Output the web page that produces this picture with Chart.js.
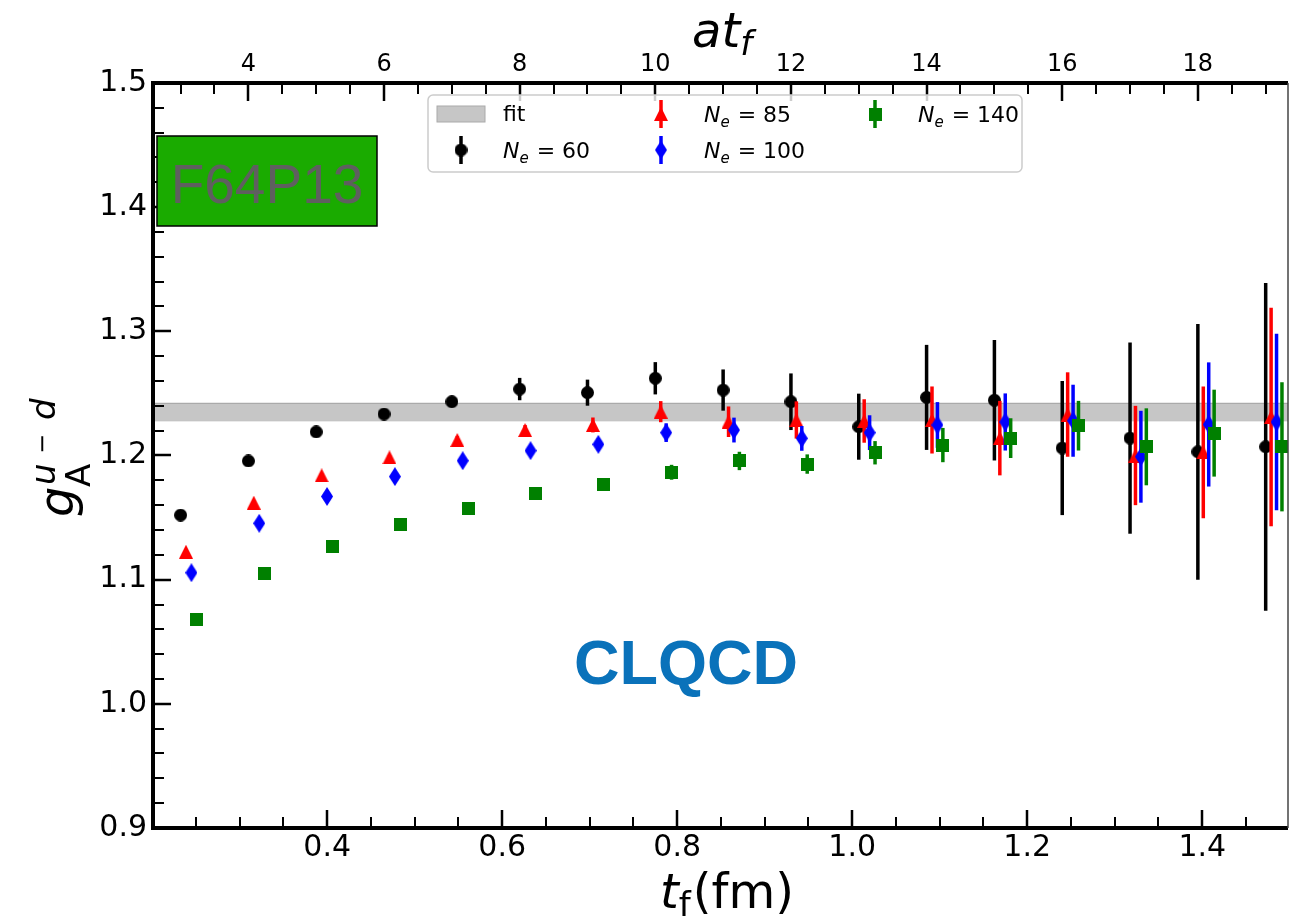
<!DOCTYPE html>
<html>
<head>
<meta charset="utf-8">
<script src="https://cdn.jsdelivr.net/npm/chart.js@4.4.1/dist/chart.umd.min.js"></script>
<style>
  html, body { margin: 0; padding: 0; background: #fff; }
  #wrap { width: 1296px; height: 922px; }
</style>
</head>
<body>
<div id="wrap"><canvas id="gA" width="1296" height="922"></canvas></div>
<script>
// lattice spacing (fm), t_f = a * at_f
const latticeA = 0.0775;
const atSteps = [3, 4, 5, 6, 7, 8, 9, 10, 11, 12, 13, 14, 15, 16, 17, 18, 19];

// g_A^{u-d} for each N_e
const ne60 = [1.152, 1.1956, 1.219, 1.2334, 1.2433, 1.2535, 1.2506, 1.2622, 1.2527, 1.2433, 1.2232, 1.2468, 1.2445, 1.206, 1.214, 1.203, 1.207];
const ne60Err = [0.002, 0.002, 0.002, 0.002, 0.003, 0.009, 0.0105, 0.013, 0.0166, 0.0228, 0.0266, 0.0423, 0.0485, 0.054, 0.077, 0.103, 0.132];
const ne85 = [1.1225, 1.162, 1.184, 1.1985, 1.2125, 1.2205, 1.2246, 1.2353, 1.2272, 1.2286, 1.2278, 1.2286, 1.214, 1.233, 1.2, 1.2025, 1.231];
const ne85Err = [0.002, 0.002, 0.002, 0.002, 0.003, 0.004, 0.006, 0.0085, 0.0123, 0.015, 0.0175, 0.027, 0.03, 0.034, 0.04, 0.053, 0.088];
const ne100 = [1.1056, 1.1454, 1.167, 1.183, 1.1958, 1.2039, 1.209, 1.2184, 1.2205, 1.2138, 1.2184, 1.2246, 1.227, 1.228, 1.199, 1.225, 1.227];
const ne100Err = [0.002, 0.002, 0.002, 0.002, 0.003, 0.003, 0.005, 0.0075, 0.01, 0.01, 0.014, 0.0184, 0.023, 0.029, 0.037, 0.05, 0.071];
const ne140 = [1.068, 1.105, 1.127, 1.1446, 1.157, 1.169, 1.1768, 1.1865, 1.1956, 1.1931, 1.2022, 1.2084, 1.214, 1.224, 1.207, 1.218, 1.207];
const ne140Err = [0.002, 0.002, 0.002, 0.002, 0.002, 0.003, 0.004, 0.006, 0.0074, 0.0078, 0.0094, 0.0138, 0.016, 0.02, 0.031, 0.035, 0.052];

// fit band (lower, upper)
const fitBand = [1.228, 1.242];

// axes
const tfRange = [0.201, 1.498];
const gRange = [0.9, 1.5];
const xTicks = [0.4, 0.6, 0.8, 1.0, 1.2, 1.4];
const topTicks = [4, 6, 8, 10, 12, 14, 16, 18];
const yTicks = [0.9, 1.0, 1.1, 1.2, 1.3, 1.4, 1.5];

function markerCanvas(w, h, color, path) {
    const c = document.createElement('canvas');
    c.width = w; c.height = h;
    const g = c.getContext('2d');
    g.fillStyle = color;
    g.beginPath();
    path(g, w, h);
    g.closePath();
    g.fill();
    return c;
}
const dotMark = markerCanvas(13, 13, '#000000', (g, w, h) => g.arc(w / 2, h / 2, w / 2, 0, Math.PI * 2));
const triMark = markerCanvas(14, 14, '#ff0000', (g, w, h) => { g.moveTo(w / 2, 0); g.lineTo(w, h); g.lineTo(0, h); });
const diaMark = markerCanvas(12, 19, '#0000ff', (g, w, h) => { g.moveTo(w / 2, 0); g.lineTo(w, h / 2); g.lineTo(w / 2, h); g.lineTo(0, h / 2); });
const sqMark = markerCanvas(13, 13, '#008000', (g, w, h) => g.rect(0, 0, w, h));

function series(label, vals, errs, shift, color, mark, order) {
    return {
        label: label,
        data: vals.map((v, i) => ({ x: (atSteps[i] + shift) * latticeA, y: v })),
        errors: errs,
        barColor: color,
        pointStyle: mark,
        pointRadius: 7,
        showLine: false,
        order: order
    };
}

const errorBars = {
    id: 'errorBars',
    beforeDatasetDraw(chart, args) {
        const ds = chart.data.datasets[args.index];
        if (!ds.errors) return;
        const { ctx, scales: { x, y } } = chart;
        ctx.save();
        ctx.strokeStyle = ds.barColor;
        ctx.lineWidth = 3.5;
        ds.data.forEach((p, i) => {
            const px = x.getPixelForValue(p.x);
            ctx.beginPath();
            ctx.moveTo(px, y.getPixelForValue(p.y - ds.errors[i]));
            ctx.lineTo(px, y.getPixelForValue(p.y + ds.errors[i]));
            ctx.stroke();
        });
        ctx.restore();
    }
};

function runs(ctx, x, y, parts) {
    parts.forEach(p => {
        ctx.font = p.font;
        ctx.fillText(p.t, x, y + (p.dy || 0));
        x += ctx.measureText(p.t).width + (p.gap || 0);
    });
}

function neLabel(n) {
    return [
        { t: 'N', font: 'italic 22px "DejaVu Sans"' },
        { t: 'e', font: 'italic 15px "DejaVu Sans"', dy: 5, gap: 1 },
        { t: ' = ' + n, font: '22px "DejaVu Sans"' }
    ];
}

const decorations = {
    id: 'decorations',
    afterDraw(chart) {
        const { ctx, chartArea: a, scales } = chart;
        const xs = scales.x, x2 = scales.x2, ys = scales.y;
        ctx.save();

        // inward ticks
        ctx.strokeStyle = '#000';
        function tick(x0, y0, x1, y1, w) {
            ctx.lineWidth = w;
            ctx.beginPath(); ctx.moveTo(x0, y0); ctx.lineTo(x1, y1); ctx.stroke();
        }
        for (let v = 0.25; v < 1.49; v += 0.05) {
            const major = xTicks.some(t => Math.abs(t - v) < 1e-6);
            const px = Math.round(xs.getPixelForValue(v));
            tick(px, a.bottom, px, a.bottom - (major ? 18 : 11), major ? 2.5 : 2);
        }
        for (let v = 3; v <= 19.01; v += 0.5) {
            const major = topTicks.includes(v);
            const px = Math.round(x2.getPixelForValue(v));
            tick(px, a.top, px, a.top + (major ? 18 : 11), major ? 2.5 : 2);
        }
        for (let v = 0.9; v <= 1.501; v += 0.02) {
            const major = yTicks.some(t => Math.abs(t - v) < 1e-6);
            const py = Math.round(ys.getPixelForValue(v));
            tick(a.left, py, a.left + (major ? 18 : 11), py, major ? 2.5 : 2);
        }

        // spines
        ctx.lineWidth = 4;
        ctx.beginPath();
        ctx.moveTo(a.right, a.top); ctx.lineTo(a.left, a.top);
        ctx.lineTo(a.left, a.bottom); ctx.lineTo(a.right, a.bottom);
        ctx.stroke();
        ctx.lineWidth = 1.5;
        ctx.strokeStyle = '#444';
        ctx.beginPath(); ctx.moveTo(a.right, a.top); ctx.lineTo(a.right, a.bottom); ctx.stroke();

        // ensemble tag
        ctx.fillStyle = '#1aab00';
        ctx.fillRect(157, 136, 220, 90);
        ctx.strokeStyle = '#000';
        ctx.lineWidth = 1.5;
        ctx.strokeRect(157, 136, 220, 90);
        ctx.fillStyle = '#5f5f5f';
        ctx.font = '55px "Liberation Sans"';
        ctx.textAlign = 'center';
        ctx.fillText('F64P13', 267, 203);

        // collaboration tag
        ctx.fillStyle = '#0a72ba';
        ctx.font = 'bold 63px "Liberation Sans"';
        ctx.fillText('CLQCD', 686, 684);
        ctx.textAlign = 'left';

        // legend
        ctx.fillStyle = 'rgba(255,255,255,0.8)';
        ctx.strokeStyle = '#cccccc';
        ctx.lineWidth = 1.5;
        ctx.beginPath();
        ctx.roundRect(428, 95, 594, 77, 5);
        ctx.fill(); ctx.stroke();

        ctx.fillStyle = '#c6c6c6';
        ctx.fillRect(437, 106, 48, 16);
        ctx.strokeStyle = '#aaaaaa';
        ctx.lineWidth = 1;
        ctx.strokeRect(437, 106, 48, 16);

        const handles = [
            { x: 461, y: 150, color: '#000000', mark: dotMark, n: '60', tx: 503 },
            { x: 661, y: 114, color: '#ff0000', mark: triMark, n: '85', tx: 704 },
            { x: 661, y: 150, color: '#0000ff', mark: diaMark, n: '100', tx: 704 },
            { x: 875, y: 114, color: '#008000', mark: sqMark, n: '140', tx: 918 }
        ];
        handles.forEach(h => {
            ctx.strokeStyle = h.color;
            ctx.lineWidth = 3.5;
            ctx.beginPath(); ctx.moveTo(h.x, h.y - 14); ctx.lineTo(h.x, h.y + 14); ctx.stroke();
            ctx.drawImage(h.mark, h.x - h.mark.width / 2, h.y - h.mark.height / 2);
        });
        ctx.fillStyle = '#000';
        ctx.font = '22px "DejaVu Sans"';
        ctx.fillText('fit', 503, 121);
        handles.forEach(h => runs(ctx, h.tx, h.y + 8, neLabel(h.n)));

        // axis titles
        runs(ctx, 692, 47, [
            { t: 'at', font: 'italic 48px "DejaVu Sans"' },
            { t: 'f', font: 'italic 34px "DejaVu Sans"', dy: 8 }
        ]);
        runs(ctx, 660, 908, [
            { t: 't', font: 'italic 48px "DejaVu Sans"' },
            { t: 'f', font: '34px "DejaVu Sans"', dy: 8, gap: 2 },
            { t: '(fm)', font: '48px "DejaVu Sans"' }
        ]);

        ctx.save();
        ctx.rotate(-Math.PI / 2);
        ctx.font = 'italic 48px "DejaVu Sans"';
        ctx.fillText('g', -517, 73);
        ctx.font = '34px "DejaVu Sans"';
        ctx.fillText('A', -487, 90);
        ctx.font = 'italic 34px "DejaVu Sans"';
        ctx.fillText('u', -485, 55);
        ctx.fillText('d', -420, 55);
        ctx.font = '24px "DejaVu Sans"';
        ctx.textAlign = 'center';
        ctx.fillText('\u2212', -444, 50);
        ctx.restore();

        ctx.restore();
    }
};

const tickFont = { family: 'DejaVu Sans', size: 30 };

new Chart(document.getElementById('gA'), {
    type: 'scatter',
    data: {
        datasets: [
            {
                label: 'fit low',
                data: [{ x: tfRange[0], y: fitBand[0] }, { x: tfRange[1], y: fitBand[0] }],
                showLine: true, pointRadius: 0, borderColor: '#aaaaaa', borderWidth: 1.2, fill: false, order: 10
            },
            {
                label: 'fit',
                data: [{ x: tfRange[0], y: fitBand[1] }, { x: tfRange[1], y: fitBand[1] }],
                showLine: true, pointRadius: 0, borderColor: '#aaaaaa', borderWidth: 1.2,
                backgroundColor: '#c6c6c6', fill: '-1', order: 9
            },
            series('N_e = 60', ne60, ne60Err, 0, '#000000', dotMark, 4),
            series('N_e = 85', ne85, ne85Err, 0.08, '#ff0000', triMark, 3),
            series('N_e = 100', ne100, ne100Err, 0.16, '#0000ff', diaMark, 2),
            series('N_e = 140', ne140, ne140Err, 0.24, '#008000', sqMark, 1)
        ]
    },
    options: {
        responsive: false,
        animation: false,
        events: [],
        layout: { padding: { left: 0, right: 2, top: 0, bottom: 0 } },
        plugins: {
            legend: { display: false },
            tooltip: { enabled: false }
        },
        scales: {
            x: {
                type: 'linear', position: 'bottom',
                min: tfRange[0], max: tfRange[1],
                afterBuildTicks: s => { s.ticks = xTicks.map(v => ({ value: v })); },
                afterFit: s => { s.height = 94; },
                grid: { display: false, drawTicks: false },
                border: { display: false },
                ticks: { font: tickFont, color: '#000', padding: 2, maxRotation: 0, autoSkip: false, callback: v => v.toFixed(1) }
            },
            x2: {
                type: 'linear', position: 'top',
                min: tfRange[0] / latticeA, max: tfRange[1] / latticeA,
                afterBuildTicks: s => { s.ticks = topTicks.map(v => ({ value: v })); },
                afterFit: s => { s.height = 83; },
                grid: { display: false, drawTicks: false },
                border: { display: false },
                ticks: { font: { family: 'DejaVu Sans', size: 24 }, color: '#000', padding: 4, maxRotation: 0, autoSkip: false, callback: v => String(v) }
            },
            y: {
                type: 'linear', position: 'left',
                min: gRange[0], max: gRange[1],
                afterBuildTicks: s => { s.ticks = yTicks.map(v => ({ value: v })); },
                afterFit: s => { s.width = 153; },
                grid: { display: false, drawTicks: false },
                border: { display: false },
                ticks: { font: tickFont, color: '#000', padding: 6, autoSkip: false, callback: v => v.toFixed(1) }
            }
        }
    },
    plugins: [errorBars, decorations]
});
</script>
</body>
</html>
